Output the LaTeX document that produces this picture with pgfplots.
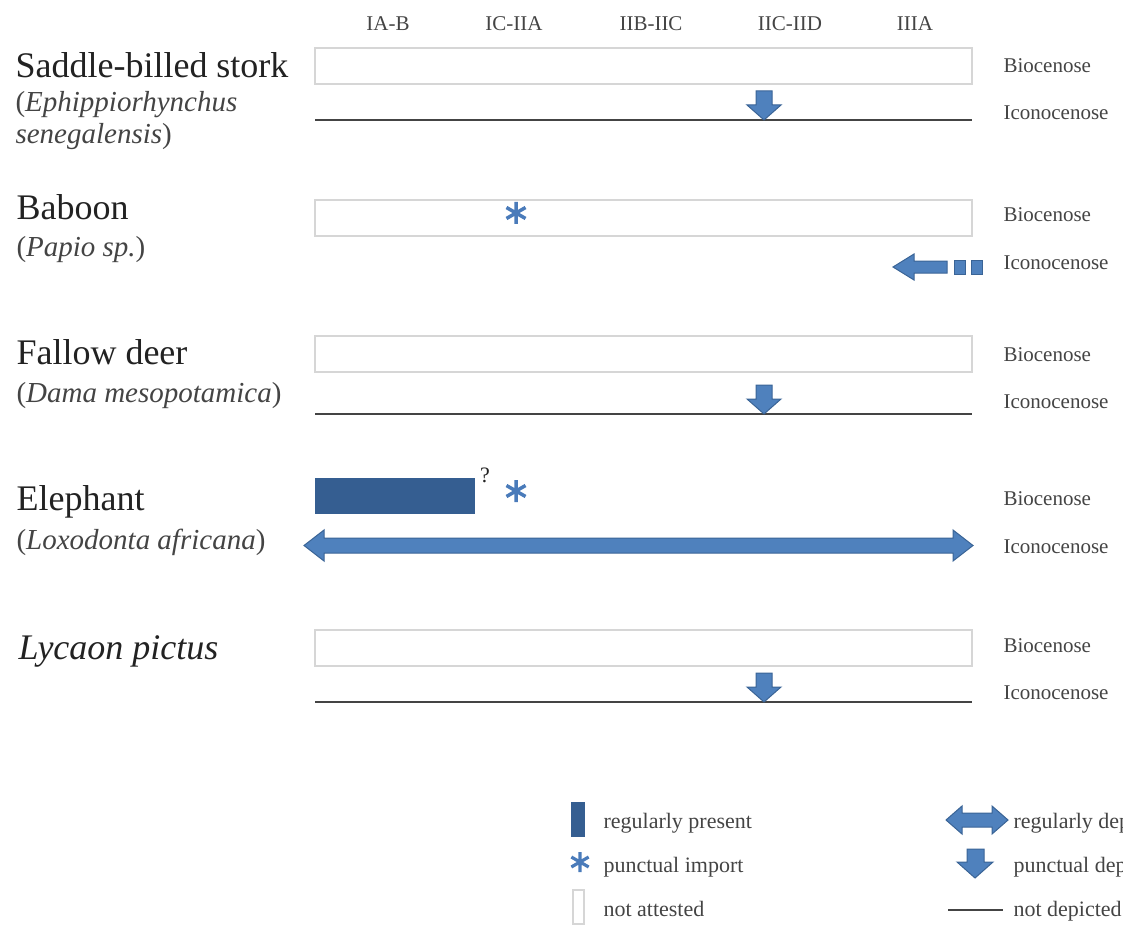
\documentclass[border=0pt]{standalone}
\usepackage{pgfplots}
\pgfplotsset{compat=1.18}
\usepackage{fontspec}
\setmainfont{Liberation Serif}
\definecolor{boxgray}{HTML}{D6D6D6}
\definecolor{arrowfill}{HTML}{4F81BD}
\definecolor{arrowdraw}{HTML}{3A6496}
\definecolor{darkbar}{HTML}{355E91}
\definecolor{astblue}{HTML}{4A7BBA}
\definecolor{txt}{HTML}{222222}
\definecolor{txtg}{HTML}{444444}
\newcommand{\fbig}{\fontsize{36}{40}\selectfont}
\newcommand{\fmid}{\fontsize{29}{34}\selectfont}
\newcommand{\fsml}{\fontsize{21}{24}\selectfont}
\newcommand{\fleg}{\fontsize{22}{24}\selectfont}
\begin{document}
\begin{tikzpicture}
\path[use as bounding box] (0,0) rectangle (1123pt,925pt);
\begin{axis}[scale only axis, width=1123pt, height=925pt,
  xmin=0, xmax=1123, ymin=0, ymax=925, y dir=reverse,
  hide axis, clip=false]

% header labels
\node[txtg,font=\fsml] at (axis cs:388,24) {IA-B};
\node[txtg,font=\fsml] at (axis cs:514,24) {IC-IIA};
\node[txtg,font=\fsml] at (axis cs:651,24) {IIB-IIC};
\node[txtg,font=\fsml] at (axis cs:790,24) {IIC-IID};
\node[txtg,font=\fsml] at (axis cs:915,24) {IIIA};

% empty boxes (not attested)
\addplot[draw=boxgray, line width=2.5pt] coordinates {(315,48)(972,48)(972,84)(315,84)} -- cycle;
\addplot[draw=boxgray, line width=2.5pt] coordinates {(315,200)(972,200)(972,236)(315,236)} -- cycle;
\addplot[draw=boxgray, line width=2.5pt] coordinates {(315,336)(972,336)(972,372)(315,372)} -- cycle;
\addplot[draw=boxgray, line width=2.5pt] coordinates {(315,630)(972,630)(972,666)(315,666)} -- cycle;

% not depicted lines
\addplot[draw=txtg, line width=1.2pt] coordinates {(315,120)(972,120)};
\addplot[draw=txtg, line width=1.2pt] coordinates {(315,414)(972,414)};
\addplot[draw=txtg, line width=1.2pt] coordinates {(315,702)(972,702)};

% punctual depiction arrows
\addplot[fill=arrowfill, draw=arrowdraw, line width=1pt] coordinates {(756,91)(772,91)(772,105)(781,105)(764,120)(747,105)(756,105)} -- cycle;
\addplot[fill=arrowfill, draw=arrowdraw, line width=1pt] coordinates {(756,385)(772,385)(772,399)(781,399)(764,414)(747,399)(756,399)} -- cycle;
\addplot[fill=arrowfill, draw=arrowdraw, line width=1pt] coordinates {(756,673)(772,673)(772,687)(781,687)(764,702)(747,687)(756,687)} -- cycle;

% baboon left arrow + squares
\addplot[fill=arrowfill, draw=arrowdraw, line width=1pt] coordinates {(893,267)(914,254)(914,261)(947,261)(947,273)(914,273)(914,280)} -- cycle;
\addplot[fill=arrowfill, draw=arrowdraw, line width=1pt] coordinates {(954,260)(965,260)(965,274)(954,274)} -- cycle;
\addplot[fill=arrowfill, draw=arrowdraw, line width=1pt] coordinates {(971,260)(982,260)(982,274)(971,274)} -- cycle;

% asterisks
\addplot[only marks, mark=asterisk, mark size=11pt, astblue, line width=3.5pt] coordinates {(516,213)};
\addplot[only marks, mark=asterisk, mark size=11pt, astblue, line width=3.5pt] coordinates {(516,491)};

% elephant bar + double arrow
\addplot[fill=darkbar, draw=darkbar] coordinates {(315,478)(474,478)(474,513)(315,513)} -- cycle;
\node[txt,font=\fleg] at (axis cs:485,475) {?};
\addplot[fill=arrowfill, draw=arrowdraw, line width=1pt] coordinates {(304,545.5)(324,530)(324,538)(953,538)(953,530)(973,545.5)(953,561)(953,553)(324,553)(324,561)} -- cycle;

% row labels right
\node[txtg,font=\fsml,anchor=west] at (axis cs:1000,66) {Biocenose};
\node[txtg,font=\fsml,anchor=west] at (axis cs:1000,215) {Biocenose};
\node[txtg,font=\fsml,anchor=west] at (axis cs:1000,355) {Biocenose};
\node[txtg,font=\fsml,anchor=west] at (axis cs:1000,499) {Biocenose};
\node[txtg,font=\fsml,anchor=west] at (axis cs:1000,646) {Biocenose};
\node[txtg,font=\fsml,anchor=west] at (axis cs:1000,113) {Iconocenose};
\node[txtg,font=\fsml,anchor=west] at (axis cs:1000,263) {Iconocenose};
\node[txtg,font=\fsml,anchor=west] at (axis cs:1000,402) {Iconocenose};
\node[txtg,font=\fsml,anchor=west] at (axis cs:1000,547) {Iconocenose};
\node[txtg,font=\fsml,anchor=west] at (axis cs:1000,693) {Iconocenose};

% species labels
\node[txt,font=\fbig,anchor=base west] at (axis cs:12,78) {Saddle-billed stork};
\node[txtg,font=\fmid,anchor=base west] at (axis cs:12,112) {(\textit{Ephippiorhynchus}};
\node[txtg,font=\fmid,anchor=base west] at (axis cs:12,144) {\textit{senegalensis})};
\node[txt,font=\fbig,anchor=base west] at (axis cs:13,220) {Baboon};
\node[txtg,font=\fmid,anchor=base west] at (axis cs:13,256) {(\textit{Papio sp.})};
\node[txt,font=\fbig,anchor=base west] at (axis cs:13,364) {Fallow deer};
\node[txtg,font=\fmid,anchor=base west] at (axis cs:13,402) {(\textit{Dama mesopotamica})};
\node[txt,font=\fbig,anchor=base west] at (axis cs:13,510) {Elephant};
\node[txtg,font=\fmid,anchor=base west] at (axis cs:13,549) {(\textit{Loxodonta africana})};
\node[txt,font=\fbig,anchor=base west] at (axis cs:15,659) {\textit{Lycaon pictus}};

% legend
\addplot[fill=darkbar, draw=darkbar] coordinates {(571,802)(584,802)(584,836)(571,836)} -- cycle;
\addplot[only marks, mark=asterisk, mark size=10pt, astblue, line width=3.2pt] coordinates {(580,862)};
\addplot[draw=boxgray, line width=2pt] coordinates {(573,890)(584,890)(584,924)(573,924)} -- cycle;
\node[txtg,font=\fleg,anchor=base west] at (axis cs:600,828) {regularly present};
\node[txtg,font=\fleg,anchor=base west] at (axis cs:600,872) {punctual import};
\node[txtg,font=\fleg,anchor=base west] at (axis cs:600,916) {not attested};

\addplot[fill=arrowfill, draw=arrowdraw, line width=1pt] coordinates {(946,820)(962,806)(962,813)(992,813)(992,806)(1008,820)(992,834)(992,827)(962,827)(962,834)} -- cycle;
\addplot[fill=arrowfill, draw=arrowdraw, line width=1pt] coordinates {(967,849)(984,849)(984,862)(993,862)(975,878)(957,862)(967,862)} -- cycle;
\addplot[draw=txtg, line width=1.2pt] coordinates {(948,910)(1003,910)};
\node[txtg,font=\fleg,anchor=base west] at (axis cs:1010,828) {regularly depicted};
\node[txtg,font=\fleg,anchor=base west] at (axis cs:1010,872) {punctual depiction};
\node[txtg,font=\fleg,anchor=base west] at (axis cs:1010,916) {not depicted};
\end{axis}
\end{tikzpicture}
\end{document}
